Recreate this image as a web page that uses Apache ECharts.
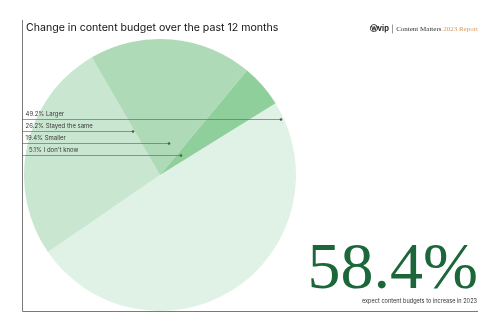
<!DOCTYPE html>
<html>
<head>
<meta charset="utf-8">
<script src="https://cdn.jsdelivr.net/npm/echarts@6/dist/echarts.min.js"></script>
<style>
  html, body { margin: 0; padding: 0; background: #fff; }
  #chart { width: 500px; height: 333px; }
</style>
</head>
<body>
<div id="chart"></div>
<script>
// Survey answers: how the content budget changed over the past 12 months
const categories = ['Larger', 'Stayed the same', 'Smaller', "I don't know"];
const shares = [49.2, 26.2, 19.4, 5.1];
const headlineValue = 58.4;
const headlineCaption = 'expect content budgets to increase in 2023';
const titleText = 'Change in content budget over the past 12 months';

// Slice colours, lightest for the largest answer
const sliceColors = ['#e0f1e5', '#c9e6d1', '#aedab8', '#8fcf9b'];

// Pie geometry (pixels)
const pieCenter = [160, 175];
const pieRadius = 136;

// Callout rows: left-aligned labels with leader lines reaching into each slice
const calloutLeft = 22;
const calloutTextX = 25.5;
const calloutFirstLine = 119;
const calloutRowGap = 12;
const calloutReach = [281, 133, 169, 181];

const chart = echarts.init(document.getElementById('chart'), null, { renderer: 'canvas' });

const lineY = i => calloutFirstLine + i * calloutRowGap;
const labelFont = 'Inter, "Noto Sans", sans-serif';
const labelSize = 6;
const digitWidth = 3.4;

const option = {
  animation: false,
  backgroundColor: '#ffffff',
  title: {
    text: titleText,
    left: 21,
    top: 17.5,
    textStyle: {
      fontFamily: 'Inter, "Noto Sans", sans-serif',
      fontSize: 10.6,
      fontWeight: 'normal',
      color: '#111'
    }
  },
  series: [{
    type: 'pie',
    center: pieCenter,
    radius: pieRadius,
    startAngle: 31.8,
    clockwise: true,
    silent: true,
    avoidLabelOverlap: false,
    itemStyle: { borderWidth: 0 },
    data: categories.map((name, i) => ({
      name: name,
      value: shares[i],
      itemStyle: { color: sliceColors[i] }
    })),
    label: {
      show: true,
      position: 'outside',
      // percentages are right-aligned: short values get a one-digit indent
      formatter: p => (p.value < 10 ? '{i|}' : '') + '{p|' + p.value + '%} {n|' + p.name + '}',
      rich: {
        i: { width: digitWidth, height: 1 },
        p: { fontFamily: labelFont, fontSize: labelSize, color: '#3a3a3a' },
        n: { fontFamily: labelFont, fontSize: labelSize, color: '#3a3a3a' }
      },
      fontFamily: labelFont,
      fontSize: labelSize,
      color: '#3a3a3a'
    },
    labelLine: { show: false },
    labelLayout: params => ({
      x: calloutTextX,
      y: lineY(params.dataIndex) - 1.5,
      align: 'left',
      verticalAlign: 'bottom'
    })
  }],
  graphic: [
    // frame: left rule and baseline
    {
      type: 'polyline',
      silent: true,
      shape: { points: [[22.5, 20], [22.5, 311.5], [478, 311.5]] },
      style: { stroke: '#7a7a7a', lineWidth: 1, fill: null }
    },
    // leader lines from the frame into each slice
    ...calloutReach.map((x, i) => ({
      type: 'line',
      silent: true,
      z: 100,
      shape: { x1: calloutLeft, y1: lineY(i) + 0.5, x2: x, y2: lineY(i) + 0.5 },
      style: { stroke: '#66716a', lineWidth: 0.7 }
    })),
    // callout end markers
    ...calloutReach.map((x, i) => ({
      type: 'circle',
      silent: true,
      z: 101,
      shape: { cx: x, cy: lineY(i) + 0.5, r: 1.3 },
      style: { fill: '#4f5a52' }
    })),
    // brand mark
    {
      type: 'text',
      silent: true,
      right: 22,
      top: 23,
      style: {
        text: '{w|Ⓦ}{v|vip} {s|} {c|Content Matters }{y|2023 Report}',
        rich: {
          w: { fontFamily: '"DejaVu Sans", sans-serif', fontSize: 8, fontWeight: 'bold', fill: '#222' },
          v: { fontFamily: 'Inter, sans-serif', fontSize: 7.5, fontWeight: 'bold', fill: '#222' },
          s: { width: 0.6, height: 9, backgroundColor: '#555' },
          c: { fontFamily: '"Liberation Serif", serif', fontSize: 7, fill: '#333' },
          y: { fontFamily: '"Liberation Serif", serif', fontSize: 7, fill: '#d39a62' }
        }
      }
    },
    // headline figure
    {
      type: 'text',
      silent: true,
      x: 478,
      y: 271,
      style: {
        text: headlineValue.toFixed(1) + '%',
        fontFamily: '"Liberation Serif", "DejaVu Serif", serif',
        fontSize: 66,
        fill: '#1b673a',
        align: 'right',
        verticalAlign: 'middle'
      }
    },
    {
      type: 'text',
      silent: true,
      x: 477,
      y: 301,
      style: {
        text: headlineCaption,
        fontFamily: 'Inter, "Noto Sans", sans-serif',
        fontSize: 5.6,
        fill: '#333',
        align: 'right',
        verticalAlign: 'middle'
      }
    }
  ]
};

chart.setOption(option);
</script>
</body>
</html>
